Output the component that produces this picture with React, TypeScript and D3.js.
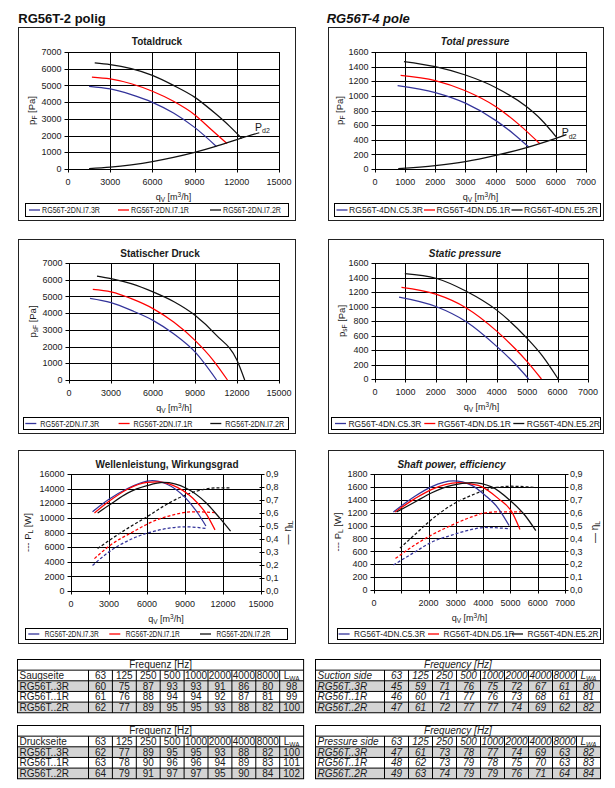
import React from 'react';
import * as d3 from 'd3';

type Pt = [number, number];

// ---------- legend names & table labels ----------
const names2 = ['RG56T-2DN.I7.3R', 'RG56T-2DN.I7.1R', 'RG56T-2DN.I7.2R'];
const names4 = ['RG56T-4DN.C5.3R', 'RG56T-4DN.D5.1R', 'RG56T-4DN.E5.2R'];
const rowNames = ['RG56T..3R', 'RG56T..1R', 'RG56T..2R'];
const freqBands = ['63', '125', '250', '500', '1000', '2000', '4000', '8000'];

// ---------- axis ticks ----------
const qTicks2 = [0, 3000, 6000, 9000, 12000, 15000];
const qTickLabels2 = ['0', '3000', '6000', '9000', '12000', '15000'];
const qTicks4 = [0, 1000, 2000, 3000, 4000, 5000, 6000, 7000];
const qTickLabels4 = ['0', '1000', '2000', '3000', '4000', '5000', '6000', '7000'];
const qTickLabels4Shaft = ['0', '', '2000', '3000', '4000', '5000', '6000', '7000'];
const pTicks2 = [0, 1000, 2000, 3000, 4000, 5000, 6000, 7000];
const pTicks4 = [0, 200, 400, 600, 800, 1000, 1200, 1400, 1600];
const powTicks2 = [0, 2000, 4000, 6000, 8000, 10000, 12000, 14000, 16000];
const powTicks4 = [0, 200, 400, 600, 800, 1000, 1200, 1400, 1600, 1800];
const etaTicks = [0, 0.1, 0.2, 0.3, 0.4, 0.5, 0.6, 0.7, 0.8, 0.9];

// ---------- 2-pole total pressure [Pa] ----------
const tp2_73R: Pt[] = [[1500, 4950], [3000, 4790], [4500, 4450], [6000, 3990], [7500, 3350], [9000, 2490], [10550, 1350]];
const tp2_71R: Pt[] = [[1700, 5500], [3000, 5390], [4500, 5100], [6000, 4650], [7500, 4050], [9000, 3250], [10200, 2350], [11300, 1530]];
const tp2_72R: Pt[] = [[1900, 6350], [3000, 6250], [4500, 6000], [6000, 5600], [7500, 5000], [9000, 4300], [10500, 3300], [11500, 2550], [12350, 1830]];
const pd2_2: Pt[] = [[1500, 20], [3000, 110], [4500, 250], [6000, 440], [7500, 690], [9000, 990], [10500, 1350], [12000, 1760], [13600, 2170]];

// ---------- 4-pole total pressure [Pa] ----------
const tp4_53R: Pt[] = [[750, 1140], [2000, 1045], [3000, 900], [4000, 665], [4600, 480], [5100, 300]];
const tp4_51R: Pt[] = [[850, 1280], [2000, 1210], [3000, 1070], [4000, 855], [4800, 600], [5470, 345]];
const tp4_52R: Pt[] = [[960, 1470], [2000, 1400], [3000, 1285], [4000, 1115], [5000, 860], [5500, 680], [6030, 430]];
const pd2_4: Pt[] = [[770, 5], [2000, 45], [3000, 100], [4000, 185], [5000, 290], [6000, 420], [6350, 470]];

// ---------- 2-pole static pressure [Pa] ----------
const sp2_73R: Pt[] = [[1500, 4890], [3000, 4630], [4500, 4150], [6000, 3570], [7500, 2750], [9000, 1680], [10540, 0]];
const sp2_71R: Pt[] = [[1700, 5420], [3000, 5270], [4500, 4850], [6000, 4270], [7500, 3450], [9000, 2370], [10300, 1180], [11320, 0]];
const sp2_72R: Pt[] = [[2000, 6220], [3000, 6070], [4500, 5750], [6000, 5270], [7500, 4680], [9000, 3870], [10500, 2700], [12000, 1180], [12550, 0]];

// ---------- 4-pole static pressure [Pa] ----------
const sp4_53R: Pt[] = [[790, 1130], [2000, 1000], [3000, 790], [4000, 450], [4600, 210], [5050, 0]];
const sp4_51R: Pt[] = [[870, 1265], [2000, 1170], [3000, 980], [4000, 660], [4600, 420], [5000, 240], [5470, 0]];
const sp4_52R: Pt[] = [[980, 1455], [2000, 1390], [3000, 1210], [4000, 950], [5000, 560], [5500, 320], [6020, 0]];

// ---------- 2-pole efficiency & shaft power ----------
const eta2_73R: Pt[] = [[1700, 0.61], [3000, 0.705], [4500, 0.79], [6000, 0.845], [6400, 0.85], [7500, 0.825], [9000, 0.72], [10000, 0.6], [10650, 0.5]];
const eta2_71R: Pt[] = [[1850, 0.6], [3000, 0.69], [4500, 0.785], [6000, 0.835], [6800, 0.84], [8000, 0.815], [9600, 0.715], [10700, 0.59], [11370, 0.47]];
const eta2_72R: Pt[] = [[2100, 0.6], [3000, 0.66], [4500, 0.755], [6000, 0.81], [7300, 0.835], [9100, 0.79], [10700, 0.675], [11750, 0.56], [12600, 0.46]];
const pow2_73R: Pt[] = [[1700, 3500], [3000, 5350], [4900, 7200], [6400, 8100], [8000, 8650], [9100, 8780], [10650, 8550]];
const pow2_71R: Pt[] = [[1850, 4430], [3000, 6130], [4900, 8100], [6400, 9460], [8000, 10380], [9700, 10830], [11450, 10700]];
const pow2_72R: Pt[] = [[2100, 5800], [3000, 6900], [4500, 8600], [6000, 10150], [7500, 11800], [9000, 13100], [10500, 13900], [11500, 14100], [12600, 14100]];

// ---------- 4-pole efficiency & shaft power ----------
const eta4_53R: Pt[] = [[710, 0.605], [1500, 0.727], [2100, 0.8], [2900, 0.846], [3580, 0.812], [4070, 0.735], [4560, 0.632], [4950, 0.5]];
const eta4_51R: Pt[] = [[770, 0.605], [1500, 0.709], [2100, 0.779], [3090, 0.833], [3820, 0.812], [4560, 0.709], [5050, 0.606], [5350, 0.47]];
const eta4_52R: Pt[] = [[830, 0.605], [1500, 0.683], [2100, 0.753], [2850, 0.812], [3580, 0.833], [4310, 0.8], [5050, 0.683], [5530, 0.58], [5930, 0.46]];
const pow4_53R: Pt[] = [[710, 387], [1500, 590], [2100, 740], [2850, 851], [3580, 939], [4070, 970], [4990, 950]];
const pow4_51R: Pt[] = [[790, 490], [1500, 700], [2100, 851], [2850, 1006], [3580, 1135], [4070, 1197], [4560, 1212], [5390, 1212]];
const pow4_52R: Pt[] = [[950, 650], [1500, 860], [2100, 1090], [2850, 1320], [3580, 1470], [4310, 1580], [5050, 1610], [5930, 1590]];

// ---------- sound power tables [dB] ----------
const suction2 = [[60, 75, 87, 93, 93, 91, 86, 80, 98], [61, 76, 88, 94, 94, 92, 87, 81, 99], [62, 77, 89, 95, 95, 93, 88, 82, 100]];
const pressure2 = [[62, 77, 89, 95, 95, 93, 88, 82, 100], [63, 78, 90, 96, 96, 94, 89, 83, 101], [64, 79, 91, 97, 97, 95, 90, 84, 102]];
const suction4 = [[45, 59, 71, 76, 75, 72, 67, 61, 80], [46, 60, 71, 77, 76, 73, 68, 61, 81], [47, 61, 72, 77, 77, 74, 69, 62, 82]];
const pressure4 = [[47, 61, 73, 78, 77, 74, 69, 63, 82], [48, 62, 73, 79, 78, 75, 70, 63, 83], [49, 63, 74, 79, 79, 76, 71, 64, 84]];

// ---------- styles ----------
const COLORS = ['#33339a', '#ff0000', '#111111'];
const FONT = '"Liberation Sans", Arial, sans-serif';
const TXT = '#1a1a1a';

interface LineSpec { pts: Pt[]; color: string; dashed?: boolean; right?: boolean }
interface ChartProps {
  box: { x: number; y: number; w: number; h: number };
  plot: { l: number; r: number; t: number; b: number };
  xMax: number; xTicks: number[]; xTickLabels: string[];
  yMax: number; yTicks: number[];
  rightMax?: number; rightTicks?: number[];
  title: string; titleX: number; italic?: boolean;
  lines: LineSpec[];
  legendNames: string[];
  legend: { x: number; y: number; w: number; h: number; offs: number[]; gap: number; textLen: number };
  yLabel: React.ReactNode; yLabelX: number;
  rightLabel?: React.ReactNode; rightLabelX?: number;
  pd2?: { x: number; y: number };
}

function Chart(p: ChartProps) {
  const { plot, box, legend } = p;
  const xs = d3.scaleLinear().domain([0, p.xMax]).range([plot.l, plot.r]);
  const ys = d3.scaleLinear().domain([0, p.yMax]).range([plot.b, plot.t]);
  const yr = d3.scaleLinear().domain([0, p.rightMax ?? 1]).range([plot.b, plot.t]);
  const crisp = (v: number) => Math.round(v) + 0.5;
  const fmtEta = (v: number) => d3.format('.1f')(v).replace('.', ',');
  const style = p.italic ? 'italic' : 'normal';
  const midY = (plot.t + plot.b) / 2;
  const midX = (plot.l + plot.r) / 2;
  return (
    <g fontFamily={FONT} fill={TXT}>
      <rect x={crisp(box.x)} y={crisp(box.y)} width={Math.round(box.w)} height={Math.round(box.h)} fill="white" stroke="#222" strokeWidth={1} />
      <text x={p.titleX} y={box.y + 17.5} textAnchor="middle" fontSize={10} fontWeight="bold" fontStyle={style}>{p.title}</text>
      {/* grid */}
      {p.xTicks.map((t) => (
        <line key={'gx' + t} x1={crisp(xs(t))} x2={crisp(xs(t))} y1={crisp(plot.t)} y2={crisp(plot.b) + 3} stroke="#000" strokeWidth={1} />
      ))}
      {p.yTicks.map((t) => (
        <line key={'gy' + t} x1={crisp(plot.l) - 4} x2={crisp(plot.r)} y1={crisp(ys(t))} y2={crisp(ys(t))} stroke="#000" strokeWidth={1} />
      ))}
      <rect x={crisp(plot.l)} y={crisp(plot.t)} width={crisp(plot.r) - crisp(plot.l)} height={crisp(plot.b) - crisp(plot.t)} fill="none" stroke="#000" strokeWidth={1} />
      {p.rightTicks && p.rightTicks.map((t) => (
        <g key={'rt' + t}>
          <line x1={crisp(plot.r) - 2} x2={crisp(plot.r) + 3} y1={crisp(yr(t))} y2={crisp(yr(t))} stroke="#000" strokeWidth={1} />
          <text x={plot.r + 5} y={yr(t) + 3.2} fontSize={9}>{fmtEta(t)}</text>
        </g>
      ))}
      {/* tick labels */}
      {p.yTicks.map((t) => (
        <text key={'ly' + t} x={plot.l - 6.5} y={ys(t) + 3.2} fontSize={9} textAnchor="end">{t}</text>
      ))}
      {p.xTicks.map((t, i) => (
        <text key={'lx' + t} x={xs(t)} y={plot.b + 16} fontSize={9} textAnchor="middle">{p.xTickLabels[i]}</text>
      ))}
      <text x={midX} y={plot.b + 31} fontSize={9} textAnchor="middle">
        q<tspan fontSize={6.5} dy={2}>V</tspan><tspan dy={-2}> [m</tspan><tspan fontSize={6.5} dy={-3}>3</tspan><tspan dy={3}>/h]</tspan>
      </text>
      <text transform={`translate(${p.yLabelX},${midY}) rotate(-90)`} fontSize={9.5} textAnchor="middle">{p.yLabel}</text>
      {p.rightLabel && (
        <text transform={`translate(${p.rightLabelX},${midY}) rotate(-90)`} fontSize={10} textAnchor="middle">{p.rightLabel}</text>
      )}
      {/* curves */}
      {p.lines.map((ln, i) => {
        const sy = ln.right ? yr : ys;
        const gen = d3.line<Pt>().x((d) => xs(d[0])).y((d) => sy(d[1])).curve(d3.curveMonotoneX);
        return (
          <path key={'c' + i} d={gen(ln.pts) || ''} fill="none" stroke={ln.color} strokeWidth={1.25}
            strokeDasharray={ln.dashed ? '3,2' : undefined} />
        );
      })}
      {p.pd2 && (
        <text x={p.pd2.x} y={p.pd2.y} fontSize={10.5}>P<tspan fontSize={7} dy={2.5}>d2</tspan></text>
      )}
      {/* legend */}
      <rect x={crisp(legend.x)} y={crisp(legend.y)} width={Math.round(legend.w)} height={Math.round(legend.h)} fill="white" stroke="#000" strokeWidth={1} />
      {p.legendNames.map((n, i) => {
        const lx = legend.x + legend.offs[i];
        const cy = legend.y + legend.h / 2 + 0.5;
        return (
          <g key={'lg' + i}>
            <line x1={lx} x2={lx + 11} y1={cy} y2={cy} stroke={COLORS[i]} strokeWidth={1.3} />
            <text x={lx + 11 + legend.gap} y={cy + 3.3} fontSize={9} textLength={legend.textLen} lengthAdjust="spacingAndGlyphs">{n}</text>
          </g>
        );
      })}
    </g>
  );
}

interface TableProps {
  x: number; y: number; labelW: number; colW: number; rowH: number;
  header: string; corner: string; values: number[][]; italic?: boolean;
}

function NoiseTable(t: TableProps) {
  const cols = [...freqBands, 'LWA'];
  const totalW = t.labelW + t.colW * cols.length;
  const style = t.italic ? 'italic' : 'normal';
  const cx = (i: number) => t.x + t.labelW + t.colW * i + t.colW / 2;
  const rowY = (r: number) => t.y + t.rowH * r;
  const base = (r: number) => rowY(r) + t.rowH / 2 + 3.6;
  return (
    <g fontFamily={FONT} fontSize={10} fontStyle={style} fill={TXT}>
      {t.values.map((_, r) => (r % 2 === 0 ? (
        <rect key={'bg' + r} x={t.x} y={rowY(r + 2)} width={totalW} height={t.rowH} fill="#d4d4d4" />
      ) : null))}
      <rect x={t.x} y={t.y} width={totalW} height={t.rowH * 5} fill="none" stroke="#000" strokeWidth={1} />
      {[1, 2, 3, 4].map((r) => (
        <line key={'h' + r} x1={t.x} x2={t.x + totalW} y1={rowY(r)} y2={rowY(r)} stroke="#000" strokeWidth={1} />
      ))}
      {cols.map((_, i) => (
        <line key={'v' + i} x1={t.x + t.labelW + t.colW * i} x2={t.x + t.labelW + t.colW * i} y1={rowY(1)} y2={rowY(5)} stroke="#000" strokeWidth={1} />
      ))}
      <text x={t.x + totalW / 2} y={base(0)} textAnchor="middle">{t.header}</text>
      <text x={t.x + 2} y={base(1)}>{t.corner}</text>
      {freqBands.map((f, i) => (
        <text key={'f' + i} x={cx(i)} y={base(1)} textAnchor="middle">{f}</text>
      ))}
      <text x={cx(8)} y={base(1)} textAnchor="middle">L<tspan fontSize={6.5} dy={2}>WA</tspan></text>
      {t.values.map((row, r) => (
        <g key={'r' + r}>
          <text x={t.x + 2} y={base(r + 2)}>{rowNames[r]}</text>
          {row.map((v, i) => (
            <text key={i} x={cx(i)} y={base(r + 2)} textAnchor="middle">{v}</text>
          ))}
        </g>
      ))}
    </g>
  );
}

const pLabel = (sub: string) => (
  <>p<tspan fontSize={6.5} dy={2}>{sub}</tspan><tspan dy={-2}> [Pa]</tspan></>
);
const powLabel = (
  <>--- P<tspan fontSize={6.5} dy={2}>L</tspan><tspan dy={-2}> [W]</tspan></>
);
const etaLabel = (sub: string) => (
  <>— η<tspan fontSize={6.5} dy={2}>{sub}</tspan></>
);

export default function App() {
  const mk = (a: Pt[], b: Pt[], c: Pt[], extra?: Pt[]): LineSpec[] => {
    const arr: LineSpec[] = [
      { pts: a, color: COLORS[0] },
      { pts: b, color: COLORS[1] },
      { pts: c, color: COLORS[2] },
    ];
    if (extra) arr.push({ pts: extra, color: COLORS[2] });
    return arr;
  };
  const mkPow = (e: Pt[][], w: Pt[][]): LineSpec[] => [
    ...w.map((pts, i) => ({ pts, color: COLORS[i], dashed: true })),
    ...e.map((pts, i) => ({ pts, color: COLORS[i], right: true })),
  ];
  return (
    <svg width={615} height={788} style={{ position: 'absolute', left: 0, top: 0, background: 'white' }}>
      <rect x={0} y={0} width={615} height={788} fill="white" />
      <text x={18.3} y={23.3} fontFamily={FONT} fontSize={13} fontWeight="bold" fill="#111">RG56T-2 polig</text>
      <text x={326.7} y={22.7} fontFamily={FONT} fontSize={13} fontWeight="bold" fontStyle="italic" fill="#111">RG56T-4 pole</text>

      <Chart box={{ x: 18, y: 27, w: 277, h: 193 }} plot={{ l: 68, r: 279, t: 52, b: 169 }}
        xMax={15000} xTicks={qTicks2} xTickLabels={qTickLabels2} yMax={7000} yTicks={pTicks2}
        title="Totaldruck" titleX={157} lines={mk(tp2_73R, tp2_71R, tp2_72R, pd2_2)}
        legendNames={names2} legend={{ x: 25, y: 203, w: 263, h: 13, offs: [4, 93, 185], gap: 2, textLen: 58 }}
        yLabel={pLabel('F')} yLabelX={35} pd2={{ x: 255, y: 130.5 }} />

      <Chart box={{ x: 328, y: 27, w: 275, h: 193 }} plot={{ l: 375, r: 586, t: 52, b: 169 }}
        xMax={7000} xTicks={qTicks4} xTickLabels={qTickLabels4} yMax={1600} yTicks={pTicks4}
        title="Total pressure" titleX={475} italic lines={mk(tp4_53R, tp4_51R, tp4_52R, pd2_4)}
        legendNames={names4} legend={{ x: 334, y: 203, w: 266, h: 13, offs: [2.5, 90, 177.5], gap: 1.5, textLen: 74 }}
        yLabel={pLabel('F')} yLabelX={343} pd2={{ x: 561.7, y: 136 }} />

      <Chart box={{ x: 18, y: 239, w: 277, h: 194 }} plot={{ l: 69, r: 279, t: 263, b: 380 }}
        xMax={15000} xTicks={qTicks2} xTickLabels={qTickLabels2} yMax={7000} yTicks={pTicks2}
        title="Statischer Druck" titleX={160} lines={mk(sp2_73R, sp2_71R, sp2_72R)}
        legendNames={names2} legend={{ x: 23, y: 417, w: 265, h: 12, offs: [2.3, 95.6, 187.3], gap: 4, textLen: 59 }}
        yLabel={pLabel('sF')} yLabelX={36} />

      <Chart box={{ x: 328, y: 239, w: 275, h: 194 }} plot={{ l: 375, r: 588, t: 263, b: 379 }}
        xMax={7000} xTicks={qTicks4} xTickLabels={qTickLabels4} yMax={1600} yTicks={pTicks4}
        title="Static pressure" titleX={465} italic lines={mk(sp4_53R, sp4_51R, sp4_52R)}
        legendNames={names4} legend={{ x: 331, y: 417, w: 269, h: 12, offs: [4, 93.3, 182.3], gap: 2.5, textLen: 73 }}
        yLabel={pLabel('sF')} yLabelX={344.5} />

      <Chart box={{ x: 18, y: 450, w: 277, h: 193 }} plot={{ l: 71, r: 261, t: 474, b: 591 }}
        xMax={15000} xTicks={qTicks2} xTickLabels={qTickLabels2} yMax={16000} yTicks={powTicks2}
        rightMax={0.9} rightTicks={etaTicks}
        title="Wellenleistung, Wirkungsgrad" titleX={167}
        lines={mkPow([eta2_73R, eta2_71R, eta2_72R], [pow2_73R, pow2_71R, pow2_72R])}
        legendNames={names2} legend={{ x: 25, y: 628, w: 262, h: 11, offs: [3.3, 84.3, 175], gap: 5.5, textLen: 54 }}
        yLabel={powLabel} yLabelX={31} rightLabel={etaLabel('tL')} rightLabelX={291} />

      <Chart box={{ x: 328, y: 450, w: 275, h: 193 }} plot={{ l: 374, r: 565, t: 474, b: 590 }}
        xMax={7000} xTicks={qTicks4} xTickLabels={qTickLabels4Shaft} yMax={1800} yTicks={powTicks4}
        rightMax={0.9} rightTicks={etaTicks}
        title="Shaft power, efficiency" titleX={451.5} italic
        lines={mkPow([eta4_53R, eta4_51R, eta4_52R], [pow4_53R, pow4_51R, pow4_52R])}
        legendNames={names4} legend={{ x: 337, y: 628, w: 263, h: 11, offs: [1.6, 91, 175], gap: 4.5, textLen: 71 }}
        yLabel={powLabel} yLabelX={341} rightLabel={etaLabel('L')} rightLabelX={598} />

      <NoiseTable x={17.5} y={659.5} labelW={71} colW={23.9} rowH={10.65} header="Frequenz [Hz]" corner="Saugseite" values={suction2} />
      <NoiseTable x={17.5} y={725.5} labelW={71} colW={23.9} rowH={10.65} header="Frequenz [Hz]" corner="Druckseite" values={pressure2} />
      <NoiseTable x={315.5} y={659.5} labelW={69} colW={24} rowH={10.65} header="Frequency [Hz]" corner="Suction side" values={suction4} italic />
      <NoiseTable x={315.5} y={725.5} labelW={69} colW={24} rowH={10.65} header="Frequency [Hz]" corner="Pressure side" values={pressure4} italic />
    </svg>
  );
}
